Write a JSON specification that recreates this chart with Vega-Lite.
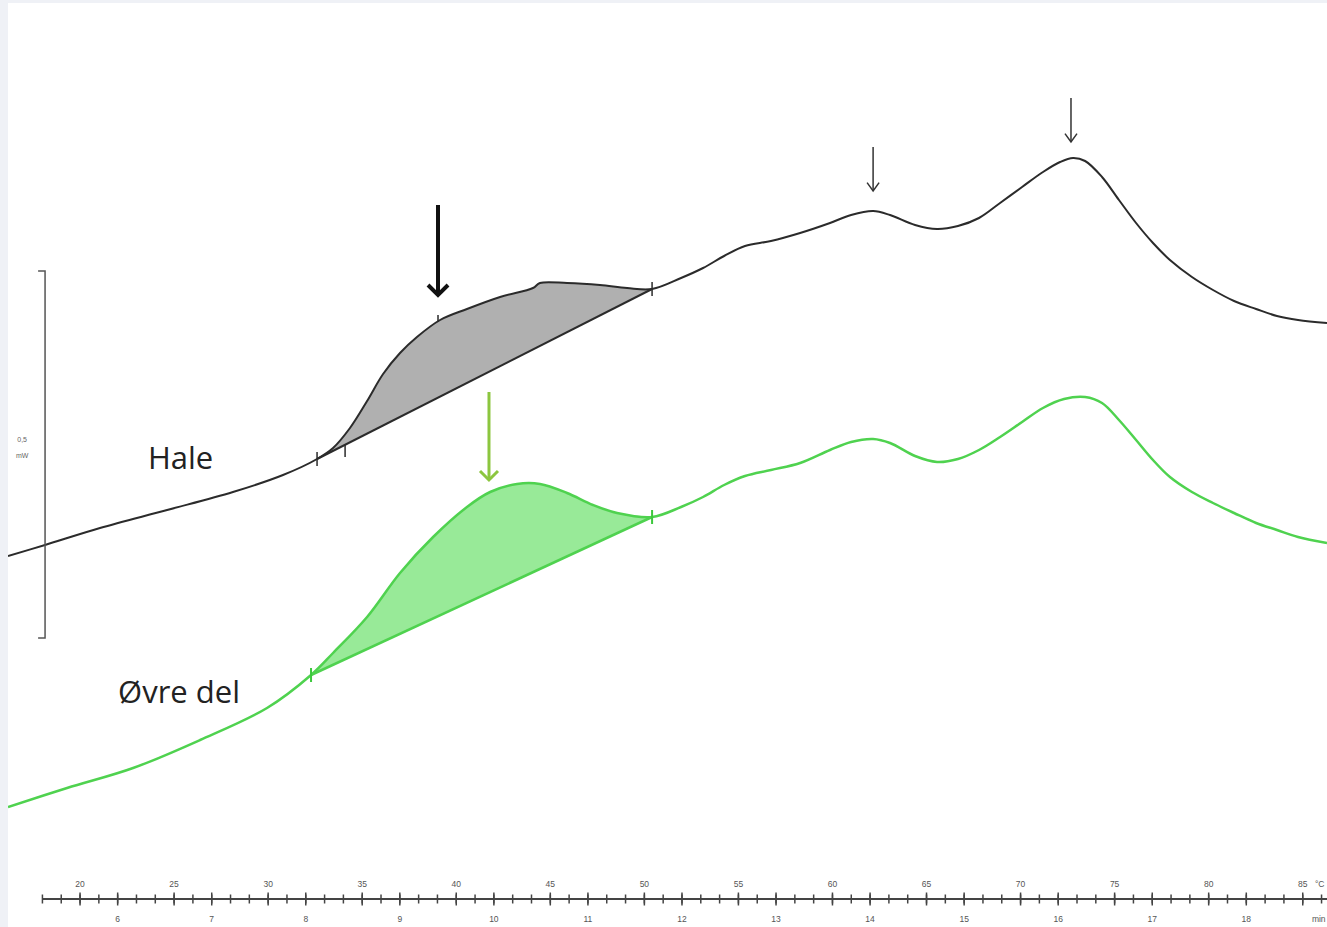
{
  "$schema": "https://vega.github.io/schema/vega-lite/v6.json",
  "width": 1327,
  "height": 927,
  "autosize": {"type": "fit", "contains": "padding"},
  "padding": {"left": 8, "top": 3, "right": 0, "bottom": 0},
  "background": "#eff1f6",
  "config": {"view": {"stroke": null, "fill": "white"}},
  "datasets": {
    "hale": [
      {"T": 16.17, "u": 371}, {"T": 18.14, "u": 382}, {"T": 21.06, "u": 399}, {"T": 24.63, "u": 417},
      {"T": 28.13, "u": 435}, {"T": 30.79, "u": 452}, {"T": 32.60, "u": 468}, {"T": 33.45, "u": 479},
      {"T": 34.35, "u": 499}, {"T": 35.26, "u": 526}, {"T": 36.11, "u": 553}, {"T": 37.01, "u": 574},
      {"T": 37.91, "u": 590}, {"T": 39.14, "u": 607}, {"T": 40.57, "u": 618}, {"T": 42.33, "u": 630},
      {"T": 44.08, "u": 639}, {"T": 44.45, "u": 644}, {"T": 45.89, "u": 644}, {"T": 47.64, "u": 642},
      {"T": 49.08, "u": 639}, {"T": 50.41, "u": 638}, {"T": 51.95, "u": 649}, {"T": 53.12, "u": 659},
      {"T": 54.24, "u": 671}, {"T": 55.35, "u": 681}, {"T": 56.73, "u": 686}, {"T": 58.28, "u": 694},
      {"T": 59.87, "u": 704}, {"T": 60.99, "u": 712}, {"T": 62.16, "u": 716}, {"T": 63.06, "u": 712},
      {"T": 64.39, "u": 702}, {"T": 65.56, "u": 698}, {"T": 66.67, "u": 701}, {"T": 67.79, "u": 709},
      {"T": 68.91, "u": 724}, {"T": 70.08, "u": 740}, {"T": 71.19, "u": 755}, {"T": 72.10, "u": 765},
      {"T": 72.79, "u": 769}, {"T": 73.43, "u": 766}, {"T": 74.33, "u": 750}, {"T": 75.23, "u": 727},
      {"T": 76.14, "u": 704}, {"T": 77.04, "u": 684}, {"T": 77.94, "u": 667}, {"T": 79.11, "u": 650},
      {"T": 80.23, "u": 637}, {"T": 81.35, "u": 626}, {"T": 82.52, "u": 618}, {"T": 83.63, "u": 611},
      {"T": 84.75, "u": 607}, {"T": 86.29, "u": 604}
    ],
    "ovre": [
      {"T": 16.17, "u": 120}, {"T": 19.31, "u": 139}, {"T": 22.82, "u": 159}, {"T": 26.38, "u": 187},
      {"T": 29.94, "u": 219}, {"T": 32.28, "u": 252}, {"T": 33.45, "u": 274}, {"T": 35.26, "u": 310},
      {"T": 37.01, "u": 354}, {"T": 38.77, "u": 390}, {"T": 40.57, "u": 420}, {"T": 41.80, "u": 435},
      {"T": 43.23, "u": 443}, {"T": 44.45, "u": 443}, {"T": 45.89, "u": 434}, {"T": 47.27, "u": 422},
      {"T": 48.55, "u": 414}, {"T": 50.41, "u": 410}, {"T": 51.95, "u": 420}, {"T": 53.12, "u": 430},
      {"T": 54.24, "u": 442}, {"T": 55.35, "u": 451}, {"T": 56.73, "u": 457}, {"T": 58.28, "u": 464},
      {"T": 59.87, "u": 477}, {"T": 60.99, "u": 485}, {"T": 62.16, "u": 488}, {"T": 63.06, "u": 484},
      {"T": 64.39, "u": 471}, {"T": 65.56, "u": 465}, {"T": 66.67, "u": 468}, {"T": 67.79, "u": 477},
      {"T": 68.91, "u": 490}, {"T": 70.08, "u": 505}, {"T": 71.19, "u": 519}, {"T": 72.31, "u": 528},
      {"T": 73.43, "u": 530}, {"T": 74.33, "u": 524}, {"T": 75.23, "u": 507}, {"T": 76.14, "u": 487},
      {"T": 77.04, "u": 467}, {"T": 77.94, "u": 450}, {"T": 79.11, "u": 435}, {"T": 80.23, "u": 424},
      {"T": 81.35, "u": 414}, {"T": 82.52, "u": 404}, {"T": 83.63, "u": 397}, {"T": 84.75, "u": 390},
      {"T": 86.29, "u": 384}
    ],
    "haleArea": [
      {"T": 32.60, "u": 468, "base": 468}, {"T": 33.45, "u": 479, "base": 476}, {"T": 34.35, "u": 499, "base": 485},
      {"T": 35.26, "u": 526, "base": 493}, {"T": 36.11, "u": 553, "base": 501}, {"T": 37.01, "u": 574, "base": 510},
      {"T": 37.91, "u": 590, "base": 519}, {"T": 39.14, "u": 607, "base": 530}, {"T": 40.57, "u": 618, "base": 544},
      {"T": 42.33, "u": 630, "base": 561}, {"T": 44.08, "u": 639, "base": 578}, {"T": 44.45, "u": 644, "base": 581},
      {"T": 45.89, "u": 644, "base": 595}, {"T": 47.64, "u": 642, "base": 612}, {"T": 49.08, "u": 639, "base": 625},
      {"T": 50.41, "u": 638, "base": 638}
    ],
    "ovreArea": [
      {"T": 32.28, "u": 252, "base": 252}, {"T": 33.45, "u": 274, "base": 262}, {"T": 35.26, "u": 310, "base": 278},
      {"T": 37.01, "u": 354, "base": 293}, {"T": 38.77, "u": 390, "base": 309}, {"T": 40.57, "u": 420, "base": 324},
      {"T": 41.80, "u": 435, "base": 335}, {"T": 43.23, "u": 443, "base": 347}, {"T": 44.45, "u": 443, "base": 358},
      {"T": 45.89, "u": 434, "base": 371}, {"T": 47.27, "u": 422, "base": 383}, {"T": 48.55, "u": 414, "base": 394},
      {"T": 50.41, "u": 410, "base": 410}
    ],
    "haleBase": [{"T": 32.60, "u": 468, "T2": 50.41, "u2": 638}],
    "ovreBase": [{"T": 32.28, "u": 252, "T2": 50.41, "u2": 410}],
    "haleTicks": [
      {"T": 32.60, "u": 461, "u2": 475}, {"T": 34.09, "u": 470, "u2": 482},
      {"T": 50.41, "u": 631, "u2": 645}, {"T": 39.03, "u": 605, "u2": 612}
    ],
    "ovreTicks": [
      {"T": 32.28, "u": 245, "u2": 259}, {"T": 50.41, "u": 403, "u2": 417}
    ],
    "arrowBig": [{"T": 39.03, "u": 722, "u2": 632}],
    "arrowGreen": [{"T": 41.74, "u": 535, "u2": 447}],
    "arrowThin": [{"T": 62.16, "u": 780, "u2": 736}, {"T": 72.68, "u": 829, "u2": 785}],
    "scaleBar": [
      {"o": 1, "T": 17.77, "u": 656}, {"o": 2, "T": 18.14, "u": 656},
      {"o": 3, "T": 18.14, "u": 289}, {"o": 4, "T": 17.77, "u": 289}
    ],
    "scaleText": [{"T": 16.92, "u": 487, "label": "0,5"}, {"T": 16.92, "u": 471, "label": "mW"}],
    "names": [{"T": 23.61, "u": 458, "label": "Hale"}, {"T": 22.02, "u": 224, "label": "Øvre del"}],
    "axisLine": [{"T": 18.0, "T2": 86.29, "u": 28}],
    "axisTicks": [
      {"T": 18}, {"T": 19}, {"T": 20}, {"T": 21}, {"T": 22}, {"T": 23}, {"T": 24}, {"T": 25}, {"T": 26}, {"T": 27},
      {"T": 28}, {"T": 29}, {"T": 30}, {"T": 31}, {"T": 32}, {"T": 33}, {"T": 34}, {"T": 35}, {"T": 36}, {"T": 37},
      {"T": 38}, {"T": 39}, {"T": 40}, {"T": 41}, {"T": 42}, {"T": 43}, {"T": 44}, {"T": 45}, {"T": 46}, {"T": 47},
      {"T": 48}, {"T": 49}, {"T": 50}, {"T": 51}, {"T": 52}, {"T": 53}, {"T": 54}, {"T": 55}, {"T": 56}, {"T": 57},
      {"T": 58}, {"T": 59}, {"T": 60}, {"T": 61}, {"T": 62}, {"T": 63}, {"T": 64}, {"T": 65}, {"T": 66}, {"T": 67},
      {"T": 68}, {"T": 69}, {"T": 70}, {"T": 71}, {"T": 72}, {"T": 73}, {"T": 74}, {"T": 75}, {"T": 76}, {"T": 77},
      {"T": 78}, {"T": 79}, {"T": 80}, {"T": 81}, {"T": 82}, {"T": 83}, {"T": 84}, {"T": 85}, {"T": 86}
    ],
    "axisMajor": [
      {"T": 20}, {"T": 22}, {"T": 25}, {"T": 27}, {"T": 30}, {"T": 32}, {"T": 35}, {"T": 37}, {"T": 40}, {"T": 42},
      {"T": 45}, {"T": 47}, {"T": 50}, {"T": 52}, {"T": 55}, {"T": 57}, {"T": 60}, {"T": 62}, {"T": 65}, {"T": 67},
      {"T": 70}, {"T": 72}, {"T": 75}, {"T": 77}, {"T": 80}, {"T": 82}, {"T": 85}
    ],
    "tempLabels": [
      {"T": 20, "label": "20"}, {"T": 25, "label": "25"}, {"T": 30, "label": "30"}, {"T": 35, "label": "35"},
      {"T": 40, "label": "40"}, {"T": 45, "label": "45"}, {"T": 50, "label": "50"}, {"T": 55, "label": "55"},
      {"T": 60, "label": "60"}, {"T": 65, "label": "65"}, {"T": 70, "label": "70"}, {"T": 75, "label": "75"},
      {"T": 80, "label": "80"}, {"T": 85, "label": "85"}, {"T": 85.9, "label": "°C"}
    ],
    "timeLabels": [
      {"T": 22, "label": "6"}, {"T": 27, "label": "7"}, {"T": 32, "label": "8"}, {"T": 37, "label": "9"},
      {"T": 42, "label": "10"}, {"T": 47, "label": "11"}, {"T": 52, "label": "12"}, {"T": 57, "label": "13"},
      {"T": 62, "label": "14"}, {"T": 67, "label": "15"}, {"T": 72, "label": "16"}, {"T": 77, "label": "17"},
      {"T": 82, "label": "18"}, {"T": 85.85, "label": "min"}
    ]
  },
  "layer": [
    {
      "data": {"name": "haleArea"},
      "mark": {"type": "area", "color": "#b0b0b0", "interpolate": "catmull-rom", "clip": true},
      "encoding": {
        "x": {"field": "T", "type": "quantitative", "scale": {"domain": [16.17, 86.29], "nice": false, "zero": false}, "axis": null},
        "y": {"field": "u", "type": "quantitative", "scale": {"domain": [0, 924], "nice": false, "zero": false}, "axis": null},
        "y2": {"field": "base"}
      }
    },
    {
      "data": {"name": "ovreArea"},
      "mark": {"type": "area", "color": "#98ea98", "interpolate": "catmull-rom", "clip": true},
      "encoding": {
        "x": {"field": "T", "type": "quantitative", "scale": {"domain": [16.17, 86.29], "nice": false, "zero": false}, "axis": null},
        "y": {"field": "u", "type": "quantitative", "scale": {"domain": [0, 924], "nice": false, "zero": false}, "axis": null},
        "y2": {"field": "base"}
      }
    },
    {
      "data": {"name": "haleBase"},
      "mark": {"type": "rule", "color": "#2b2b2b", "strokeWidth": 2, "clip": true},
      "encoding": {
        "x": {"field": "T", "type": "quantitative", "scale": {"domain": [16.17, 86.29], "nice": false, "zero": false}, "axis": null},
        "y": {"field": "u", "type": "quantitative", "scale": {"domain": [0, 924], "nice": false, "zero": false}, "axis": null},
        "x2": {"field": "T2"},
        "y2": {"field": "u2"}
      }
    },
    {
      "data": {"name": "ovreBase"},
      "mark": {"type": "rule", "color": "#4fd24f", "strokeWidth": 2.5, "clip": true},
      "encoding": {
        "x": {"field": "T", "type": "quantitative", "scale": {"domain": [16.17, 86.29], "nice": false, "zero": false}, "axis": null},
        "y": {"field": "u", "type": "quantitative", "scale": {"domain": [0, 924], "nice": false, "zero": false}, "axis": null},
        "x2": {"field": "T2"},
        "y2": {"field": "u2"}
      }
    },
    {
      "data": {"name": "hale"},
      "mark": {"type": "line", "color": "#2b2b2b", "strokeWidth": 2, "interpolate": "catmull-rom", "clip": true},
      "encoding": {
        "x": {"field": "T", "type": "quantitative", "scale": {"domain": [16.17, 86.29], "nice": false, "zero": false}, "axis": null},
        "y": {"field": "u", "type": "quantitative", "scale": {"domain": [0, 924], "nice": false, "zero": false}, "axis": null}
      }
    },
    {
      "data": {"name": "ovre"},
      "mark": {"type": "line", "color": "#4fd24f", "strokeWidth": 2.5, "interpolate": "catmull-rom", "clip": true},
      "encoding": {
        "x": {"field": "T", "type": "quantitative", "scale": {"domain": [16.17, 86.29], "nice": false, "zero": false}, "axis": null},
        "y": {"field": "u", "type": "quantitative", "scale": {"domain": [0, 924], "nice": false, "zero": false}, "axis": null}
      }
    },
    {
      "data": {"name": "haleTicks"},
      "mark": {"type": "rule", "color": "#2b2b2b", "strokeWidth": 1.5, "clip": true},
      "encoding": {
        "x": {"field": "T", "type": "quantitative", "scale": {"domain": [16.17, 86.29], "nice": false, "zero": false}, "axis": null},
        "y": {"field": "u", "type": "quantitative", "scale": {"domain": [0, 924], "nice": false, "zero": false}, "axis": null},
        "y2": {"field": "u2"}
      }
    },
    {
      "data": {"name": "ovreTicks"},
      "mark": {"type": "rule", "color": "#3cc83c", "strokeWidth": 2, "clip": true},
      "encoding": {
        "x": {"field": "T", "type": "quantitative", "scale": {"domain": [16.17, 86.29], "nice": false, "zero": false}, "axis": null},
        "y": {"field": "u", "type": "quantitative", "scale": {"domain": [0, 924], "nice": false, "zero": false}, "axis": null},
        "y2": {"field": "u2"}
      }
    },
    {
      "data": {"name": "arrowBig"},
      "mark": {"type": "rule", "color": "#111111", "strokeWidth": 4, "clip": true},
      "encoding": {
        "x": {"field": "T", "type": "quantitative", "scale": {"domain": [16.17, 86.29], "nice": false, "zero": false}, "axis": null},
        "y": {"field": "u", "type": "quantitative", "scale": {"domain": [0, 924], "nice": false, "zero": false}, "axis": null},
        "y2": {"field": "u2"}
      }
    },
    {
      "data": {"name": "arrowBig"},
      "mark": {"type": "point", "shape": "M -1 -1 L 0 0 L 1 -1", "filled": false, "stroke": "#111111", "strokeWidth": 4, "size": 400, "strokeJoin": "miter", "opacity": 1, "clip": true},
      "encoding": {
        "x": {"field": "T", "type": "quantitative", "scale": {"domain": [16.17, 86.29], "nice": false, "zero": false}, "axis": null},
        "y": {"field": "u2", "type": "quantitative", "scale": {"domain": [0, 924], "nice": false, "zero": false}, "axis": null}
      }
    },
    {
      "data": {"name": "arrowGreen"},
      "mark": {"type": "rule", "color": "#8cc63f", "strokeWidth": 3, "clip": true},
      "encoding": {
        "x": {"field": "T", "type": "quantitative", "scale": {"domain": [16.17, 86.29], "nice": false, "zero": false}, "axis": null},
        "y": {"field": "u", "type": "quantitative", "scale": {"domain": [0, 924], "nice": false, "zero": false}, "axis": null},
        "y2": {"field": "u2"}
      }
    },
    {
      "data": {"name": "arrowGreen"},
      "mark": {"type": "point", "shape": "M -1 -1 L 0 0 L 1 -1", "filled": false, "stroke": "#8cc63f", "strokeWidth": 3, "size": 324, "strokeJoin": "miter", "opacity": 1, "clip": true},
      "encoding": {
        "x": {"field": "T", "type": "quantitative", "scale": {"domain": [16.17, 86.29], "nice": false, "zero": false}, "axis": null},
        "y": {"field": "u2", "type": "quantitative", "scale": {"domain": [0, 924], "nice": false, "zero": false}, "axis": null}
      }
    },
    {
      "data": {"name": "arrowThin"},
      "mark": {"type": "rule", "color": "#333333", "strokeWidth": 1.5, "clip": true},
      "encoding": {
        "x": {"field": "T", "type": "quantitative", "scale": {"domain": [16.17, 86.29], "nice": false, "zero": false}, "axis": null},
        "y": {"field": "u", "type": "quantitative", "scale": {"domain": [0, 924], "nice": false, "zero": false}, "axis": null},
        "y2": {"field": "u2"}
      }
    },
    {
      "data": {"name": "arrowThin"},
      "mark": {"type": "point", "shape": "M -1 -1.4 L 0 0 L 1 -1.4", "filled": false, "stroke": "#333333", "strokeWidth": 1.5, "size": 144, "strokeJoin": "miter", "opacity": 1, "clip": true},
      "encoding": {
        "x": {"field": "T", "type": "quantitative", "scale": {"domain": [16.17, 86.29], "nice": false, "zero": false}, "axis": null},
        "y": {"field": "u2", "type": "quantitative", "scale": {"domain": [0, 924], "nice": false, "zero": false}, "axis": null}
      }
    },
    {
      "data": {"name": "scaleBar"},
      "mark": {"type": "line", "color": "#555555", "strokeWidth": 1.5, "clip": true},
      "encoding": {
        "x": {"field": "T", "type": "quantitative", "scale": {"domain": [16.17, 86.29], "nice": false, "zero": false}, "axis": null},
        "y": {"field": "u", "type": "quantitative", "scale": {"domain": [0, 924], "nice": false, "zero": false}, "axis": null},
        "order": {"field": "o", "type": "quantitative"}
      }
    },
    {
      "data": {"name": "scaleText"},
      "mark": {"type": "text", "font": "Liberation Sans", "fontSize": 7, "fill": "#666666", "align": "center", "baseline": "middle", "clip": true},
      "encoding": {
        "x": {"field": "T", "type": "quantitative", "scale": {"domain": [16.17, 86.29], "nice": false, "zero": false}, "axis": null},
        "y": {"field": "u", "type": "quantitative", "scale": {"domain": [0, 924], "nice": false, "zero": false}, "axis": null},
        "text": {"field": "label"}
      }
    },
    {
      "data": {"name": "names"},
      "mark": {"type": "text", "font": "Open Sans", "fontSize": 31, "fill": "#222222", "align": "left", "baseline": "alphabetic", "clip": true},
      "encoding": {
        "x": {"field": "T", "type": "quantitative", "scale": {"domain": [16.17, 86.29], "nice": false, "zero": false}, "axis": null},
        "y": {"field": "u", "type": "quantitative", "scale": {"domain": [0, 924], "nice": false, "zero": false}, "axis": null},
        "text": {"field": "label"}
      }
    },
    {
      "data": {"name": "axisLine"},
      "mark": {"type": "rule", "color": "#444444", "strokeWidth": 2, "clip": true},
      "encoding": {
        "x": {"field": "T", "type": "quantitative", "scale": {"domain": [16.17, 86.29], "nice": false, "zero": false}, "axis": null},
        "y": {"field": "u", "type": "quantitative", "scale": {"domain": [0, 924], "nice": false, "zero": false}, "axis": null},
        "x2": {"field": "T2"}
      }
    },
    {
      "data": {"name": "axisTicks"},
      "mark": {"type": "rule", "color": "#444444", "strokeWidth": 1.5, "clip": true},
      "encoding": {
        "x": {"field": "T", "type": "quantitative", "scale": {"domain": [16.17, 86.29], "nice": false, "zero": false}, "axis": null},
        "y": {"datum": 23.5, "type": "quantitative", "scale": {"domain": [0, 924], "nice": false, "zero": false}, "axis": null},
        "y2": {"datum": 32.5}
      }
    },
    {
      "data": {"name": "axisMajor"},
      "mark": {"type": "rule", "color": "#444444", "strokeWidth": 1.5, "clip": true},
      "encoding": {
        "x": {"field": "T", "type": "quantitative", "scale": {"domain": [16.17, 86.29], "nice": false, "zero": false}, "axis": null},
        "y": {"datum": 21.5, "type": "quantitative", "scale": {"domain": [0, 924], "nice": false, "zero": false}, "axis": null},
        "y2": {"datum": 34.5}
      }
    },
    {
      "data": {"name": "tempLabels"},
      "mark": {"type": "text", "font": "Liberation Sans", "fontSize": 8.5, "fill": "#555555", "align": "center", "baseline": "middle", "clip": true},
      "encoding": {
        "x": {"field": "T", "type": "quantitative", "scale": {"domain": [16.17, 86.29], "nice": false, "zero": false}, "axis": null},
        "y": {"datum": 43, "type": "quantitative", "scale": {"domain": [0, 924], "nice": false, "zero": false}, "axis": null},
        "text": {"field": "label"}
      }
    },
    {
      "data": {"name": "timeLabels"},
      "mark": {"type": "text", "font": "Liberation Sans", "fontSize": 8.5, "fill": "#555555", "align": "center", "baseline": "middle", "clip": true},
      "encoding": {
        "x": {"field": "T", "type": "quantitative", "scale": {"domain": [16.17, 86.29], "nice": false, "zero": false}, "axis": null},
        "y": {"datum": 8, "type": "quantitative", "scale": {"domain": [0, 924], "nice": false, "zero": false}, "axis": null},
        "text": {"field": "label"}
      }
    }
  ]
}
